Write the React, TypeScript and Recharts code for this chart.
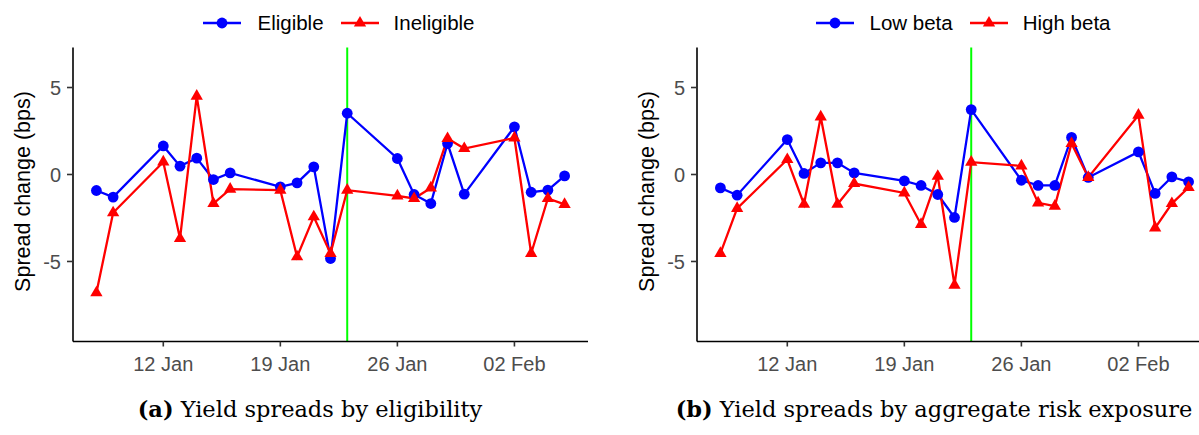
import React from 'react';
import { LineChart, Line, XAxis, YAxis, ReferenceLine } from 'recharts';

const dates = [
  '2015-01-08', '2015-01-09', '2015-01-12', '2015-01-13', '2015-01-14', '2015-01-15', '2015-01-16',
  '2015-01-19', '2015-01-20', '2015-01-21', '2015-01-22', '2015-01-23', '2015-01-26', '2015-01-27',
  '2015-01-28', '2015-01-29', '2015-01-30', '2015-02-02', '2015-02-03', '2015-02-04', '2015-02-05',
];
const eligible = [-0.92, -1.3, 1.64, 0.48, 0.94, -0.29, 0.09, -0.71, -0.48, 0.44, -4.83, 3.52, 0.92, -1.15, -1.67, 1.78, -1.13, 2.74, -1.02, -0.9, -0.08];
const ineligible = [-6.8, -2.2, 0.72, -3.68, 4.5, -1.67, -0.84, -0.9, -4.73, -2.43, -4.54, -0.9, -1.23, -1.38, -0.77, 2.07, 1.49, 2.1, -4.54, -1.38, -1.72];
const lowBeta = [-0.77, -1.19, 2.01, 0.06, 0.67, 0.67, 0.09, -0.37, -0.63, -1.15, -2.47, 3.73, -0.33, -0.63, -0.63, 2.13, -0.17, 1.3, -1.09, -0.14, -0.42];
const highBeta = [-4.54, -1.95, 0.86, -1.71, 3.31, -1.71, -0.52, -1.06, -2.87, -0.1, -6.36, 0.71, 0.49, -1.63, -1.82, 1.78, -0.17, 3.41, -3.07, -1.67, -0.75];

const tickDates = ['2015-01-12', '2015-01-19', '2015-01-26', '2015-02-02'];
const tickLabels = ['12 Jan', '19 Jan', '26 Jan', '02 Feb'];
const eventDate = '2015-01-23';
const yTicks = [-5, 0, 5];
const yDomain: [number, number] = [-9.6, 7.3];

const toDay = (s: string) => {
  const [y, m, d] = s.split('-').map(Number);
  return Date.UTC(y, m - 1, d) / 86400000;
};
const days = dates.map(toDay);
const tickDays = tickDates.map(toDay);
const span = days[days.length - 1] - days[0];
const xDomain: [number, number] = [days[0] - span * 0.05, days[days.length - 1] + span * 0.05];

const SANS = '"Liberation Sans", Arial, Helvetica, sans-serif';
const SERIF = '"DejaVu Serif", serif';
const BLUE = '#0000ff';
const RED = '#ff0000';
const LW = 2.3;

const CircleDot = (p: any) => {
  if (p.cx == null || p.cy == null) return <g key={`c-${p.index}`} />;
  return <circle key={`c-${p.index}`} cx={p.cx} cy={p.cy} r={5.4} fill={BLUE} />;
};
const TriDot = (p: any) => {
  if (p.cx == null || p.cy == null) return <g key={`t-${p.index}`} />;
  const r = 7.1;
  const xc = r * 0.866;
  const pts = `${p.cx},${p.cy - r} ${p.cx + xc},${p.cy + r / 2} ${p.cx - xc},${p.cy + r / 2}`;
  return <polygon key={`t-${p.index}`} points={pts} fill={RED} />;
};

const LegendIcon = ({ color, shape }: { color: string; shape: 'circle' | 'tri' }) => (
  <svg width={38} height={20} style={{ display: 'block' }}>
    <line x1={0} y1={10} x2={38} y2={10} stroke={color} strokeWidth={LW} />
    {shape === 'circle' ? (
      <circle cx={19} cy={10} r={5.4} fill={color} />
    ) : (
      <polygon points={`19,${10 - 7.1} ${19 + 6.15},${10 + 3.55} ${19 - 6.15},${10 + 3.55}`} fill={color} />
    )}
  </svg>
);

const PanelLegend = ({ nameA, nameB }: { nameA: string; nameB: string }) => (
  <div style={{ position: 'absolute', top: 12, left: 29, width: 620, display: 'flex', justifyContent: 'center', alignItems: 'center', fontFamily: SANS, fontSize: 20.5, lineHeight: '22px', color: '#000' }}>
    <LegendIcon color={BLUE} shape="circle" />
    <span style={{ marginLeft: 16, marginRight: 17 }}>{nameA}</span>
    <LegendIcon color={RED} shape="tri" />
    <span style={{ marginLeft: 15 }}>{nameB}</span>
  </div>
);

const YLabel = (props: any) => {
  const vb = props.viewBox || {};
  const cx = (vb.x ?? 0) + 23;
  const cy = (vb.y ?? 0) + (vb.height ?? 0) / 2 - 3;
  return (
    <text x={cx} y={cy} transform={`rotate(-90 ${cx} ${cy})`} textAnchor="middle" dominantBaseline="central" fontFamily={SANS} fontSize={21.5} fill="#000">
      Spread change (bps)
    </text>
  );
};

type PanelProps = { left: number; a: number[]; b: number[]; nameA: string; nameB: string; tag: string; caption: string };

const Panel = ({ left, a, b, nameA, nameB, tag, caption }: PanelProps) => {
  const rows = days.map((t, i) => ({ t, a: a[i], b: b[i] }));
  return (
    <div style={{ position: 'absolute', left, top: 0, width: 620, height: 435 }}>
      <div style={{ position: 'absolute', left: 0, top: 0 }}>
        <LineChart width={620} height={380} data={rows} margin={{ top: 47.5, right: 32, left: 0, bottom: 0 }}>
          <XAxis
            dataKey="t"
            type="number"
            domain={xDomain}
            allowDataOverflow
            ticks={tickDays}
            interval={0}
            tickFormatter={(v: number) => tickLabels[tickDays.indexOf(v)] ?? ''}
            height={38.5}
            tick={{ fill: '#4d4d4d', fontSize: 20, fontFamily: SANS }}
            tickLine={{ stroke: '#333333', strokeWidth: 1.6 }}
            axisLine={{ stroke: '#000000', strokeWidth: 1.6 }}
            tickSize={5}
            tickMargin={10}
          />
          <YAxis
            type="number"
            domain={yDomain}
            allowDataOverflow
            ticks={yTicks}
            interval={0}
            width={73}
            tick={{ fill: '#4d4d4d', fontSize: 20, fontFamily: SANS }}
            tickLine={{ stroke: '#333333', strokeWidth: 1.6 }}
            axisLine={{ stroke: '#000000', strokeWidth: 1.6 }}
            tickSize={6}
            tickMargin={6}
            label={{ content: YLabel }}
          />
          <ReferenceLine x={toDay(eventDate)} stroke="#00ff00" strokeWidth={2} />
          <Line dataKey="a" stroke={BLUE} strokeWidth={LW} dot={false} activeDot={false} isAnimationActive={false} legendType="none" />
          <Line dataKey="b" stroke={RED} strokeWidth={LW} dot={false} activeDot={false} isAnimationActive={false} legendType="none" />
          <Line dataKey="a" stroke="none" dot={CircleDot} activeDot={false} isAnimationActive={false} legendType="none" />
          <Line dataKey="b" stroke="none" dot={TriDot} activeDot={false} isAnimationActive={false} legendType="none" />
        </LineChart>
      </div>
      <PanelLegend nameA={nameA} nameB={nameB} />
      <div style={{ position: 'absolute', left: 0, top: 394, width: 620, textAlign: 'center', fontFamily: SERIF, fontSize: 22.5, lineHeight: '30px', color: '#000', whiteSpace: 'nowrap' }}>
        <b>{tag}</b> {caption}
      </div>
    </div>
  );
};

export default function App() {
  return (
    <div style={{ position: 'absolute', left: 0, top: 0, width: 1199, height: 435, overflow: 'hidden', background: '#fff' }}>
      <Panel left={0} a={eligible} b={ineligible} nameA="Eligible" nameB="Ineligible" tag="(a)" caption="Yield spreads by eligibility" />
      <Panel left={624} a={lowBeta} b={highBeta} nameA="Low beta" nameB="High beta" tag="(b)" caption="Yield spreads by aggregate risk exposure" />
    </div>
  );
}
